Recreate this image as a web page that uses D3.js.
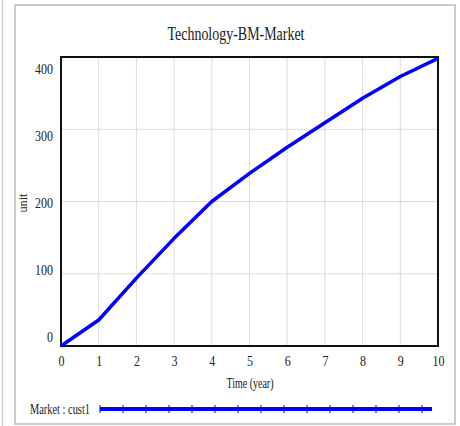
<!DOCTYPE html>
<html><head><meta charset="utf-8">
<script src="https://cdn.jsdelivr.net/npm/d3@7"></script>
<style>
body{margin:0;background:#fff;}
svg{display:block;}
text{font-family:"Liberation Serif","Times New Roman",serif;fill:#222;}
</style></head>
<body>
<svg id="c" width="460" height="426"></svg>
<script>
const title = "Technology-BM-Market";
const xLabel = "Time (year)";
const yLabel = "unit";
const seriesName = "Market : cust1";
const time = [0,1,2,3,4,5,6,7,8,9,10];
const cust1 = [0,36,94,149,200,239,275,309,343,373,398];
const xTicks = [0,1,2,3,4,5,6,7,8,9,10];
const yTicks = [0,100,200,300,400];

const svg = d3.select("#c");
const L=61, R=438, T=57, B=346;
const x = d3.scaleLinear().domain([0,10]).range([L,R]);
const y = d3.scaleLinear().domain([0,400]).range([B,T]);
const yLab = d3.scaleLinear().domain([0,400]).range([337,69]);

// outer frame
svg.append("line").attr("x1",2.5).attr("x2",2.5).attr("y1",0).attr("y2",426).attr("stroke","#ccc").attr("stroke-width",1.5);
svg.append("rect").attr("x",15).attr("y",5).attr("width",440).attr("height",419)
  .attr("fill","#fff").attr("stroke","#bbb").attr("stroke-width",1.5);

// title
svg.append("text").attr("x",236).attr("y",40).attr("text-anchor","middle")
  .style("font-size","18px").attr("textLength",137).attr("lengthAdjust","spacingAndGlyphs").text(title);

// grid
const g = svg.append("g");
g.selectAll(".vg").data(xTicks.slice(1,-1)).join("line")
  .attr("x1",d=>x(d)).attr("x2",d=>x(d)).attr("y1",T).attr("y2",B)
  .attr("stroke","#dcdcdc").attr("stroke-width",1);
g.selectAll(".hg").data(yTicks.slice(1,-1)).join("line")
  .attr("x1",L).attr("x2",R).attr("y1",d=>y(d)).attr("y2",d=>y(d))
  .attr("stroke","#dcdcdc").attr("stroke-width",1);

function styleTicks(sel){
  sel.selectAll("text").style("font-size","14px").style("font-family","Liberation Serif").attr("fill","#222")
    .attr("textLength",function(){return this.textContent.length*6;}).attr("lengthAdjust","spacingAndGlyphs");
}
const xAxis = svg.append("g").attr("transform",`translate(0,${B})`)
  .call(d3.axisBottom(x).tickValues(xTicks).tickSize(0).tickPadding(10).tickFormat(d3.format("d")));
xAxis.select(".domain").remove();
styleTicks(xAxis);

const yAxis = svg.append("g").attr("transform",`translate(53,0)`)
  .call(d3.axisLeft(yLab).tickValues(yTicks).tickSize(0).tickPadding(0).tickFormat(d3.format("d")));
yAxis.select(".domain").remove();
styleTicks(yAxis);

svg.append("text").attr("transform","translate(27,203) rotate(-90)").attr("text-anchor","middle")
  .style("font-size","13px").attr("textLength",19).attr("lengthAdjust","spacingAndGlyphs").text(yLabel);
svg.append("text").attr("x",250).attr("y",388).attr("text-anchor","middle")
  .style("font-size","14px").attr("textLength",47).attr("lengthAdjust","spacingAndGlyphs").text(xLabel);

// plot border
svg.append("rect").attr("x",L).attr("y",T).attr("width",R-L).attr("height",B-T)
  .attr("fill","none").attr("stroke","#111").attr("stroke-width",2);

// line
const line = d3.line().x((d,i)=>x(time[i])).y(d=>y(d));
svg.append("path").datum(cust1).attr("d",line).attr("fill","none")
  .attr("stroke","#0000ff").attr("stroke-width",3.5).attr("stroke-linejoin","round");

// legend
svg.append("text").attr("x",30).attr("y",414).style("font-size","14px")
  .attr("textLength",60).attr("lengthAdjust","spacingAndGlyphs").text(seriesName);
const lg = d3.scaleLinear().domain([0,14]).range([100,422]);
svg.append("line").attr("x1",100).attr("x2",432).attr("y1",409).attr("y2",409)
  .attr("stroke","#0000ff").attr("stroke-width",4);
svg.selectAll(".lt").data(d3.range(15)).join("line")
  .attr("x1",d=>lg(d)).attr("x2",d=>lg(d)).attr("y1",405).attr("y2",413)
  .attr("stroke","#0000ff").attr("stroke-width",1);
</script>
</body></html>
